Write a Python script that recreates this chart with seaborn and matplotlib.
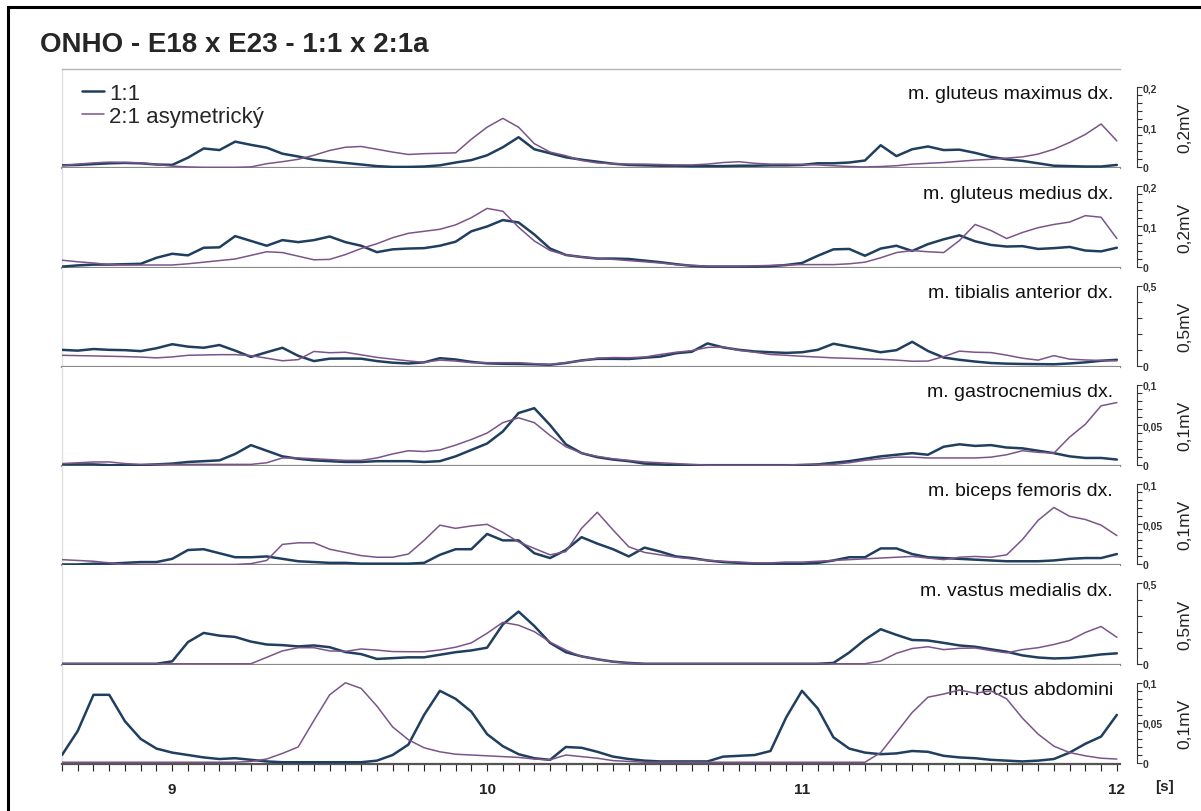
import numpy as np
import matplotlib
matplotlib.use("Agg")
import matplotlib.pyplot as plt
import matplotlib.ticker as mticker
import matplotlib.transforms as mtransforms
from matplotlib.patches import Rectangle
import seaborn as sns

sns.set_style("white")
plt.rcParams['font.family'] = ['Liberation Sans', 'DejaVu Sans']

# time axis [s], one sample every 0.05 s (8.65 .. 12.00)
time_s = np.round(np.arange(8.65, 12.001, 0.05), 2)

# EMG envelopes [mV]
glut_max_11 = [0.005, 0.006, 0.008, 0.010, 0.011, 0.010, 0.007,
               0.006, 0.024, 0.047, 0.043, 0.064, 0.056, 0.049, 0.034, 0.027, 0.019, 0.015, 0.011, 0.007, 0.003, 0.001, 0.001, 0.002, 0.005, 0.012, 0.018,
               0.030, 0.050, 0.075, 0.045, 0.035, 0.025, 0.019, 0.014, 0.009, 0.006, 0.005, 0.004, 0.004, 0.003, 0.003, 0.003, 0.004, 0.004, 0.005, 0.005,
               0.006, 0.010, 0.010, 0.012, 0.017, 0.055, 0.028, 0.045, 0.052, 0.043, 0.044, 0.036, 0.026, 0.020, 0.016, 0.010, 0.004, 0.003, 0.002, 0.002,
               0.006]
glut_max_21 = [0.004, 0.008, 0.011, 0.013, 0.012, 0.011, 0.007,
               0.003, 0.001, 0.000, 0.000, 0.000, 0.001, 0.009, 0.014, 0.020, 0.030, 0.042, 0.050, 0.052, 0.045, 0.038, 0.032, 0.034, 0.035, 0.036, 0.070,
               0.100, 0.122, 0.100, 0.059, 0.038, 0.029, 0.017, 0.011, 0.009, 0.008, 0.008, 0.007, 0.006, 0.006, 0.008, 0.012, 0.014, 0.010, 0.008, 0.008,
               0.007, 0.006, 0.004, 0.002, 0.001, 0.002, 0.004, 0.008, 0.010, 0.012, 0.015, 0.018, 0.020, 0.023, 0.026, 0.033, 0.045, 0.062, 0.082, 0.108,
               0.066]

glut_med_11 = [0.000, 0.003, 0.005, 0.005, 0.006, 0.007, 0.022,
               0.032, 0.028, 0.047, 0.048, 0.076, 0.064, 0.052, 0.066, 0.061, 0.066, 0.075, 0.061, 0.052, 0.036, 0.043, 0.045, 0.046, 0.052, 0.062, 0.088,
               0.100, 0.116, 0.110, 0.080, 0.045, 0.029, 0.024, 0.020, 0.020, 0.019, 0.015, 0.011, 0.006, 0.002, 0.000, 0.000, 0.000, 0.000, 0.001, 0.004,
               0.009, 0.027, 0.043, 0.044, 0.027, 0.045, 0.052, 0.039, 0.056, 0.068, 0.078, 0.063, 0.054, 0.050, 0.051, 0.044, 0.046, 0.049, 0.040, 0.038,
               0.047]
glut_med_21 = [0.016, 0.012, 0.009, 0.005, 0.004, 0.004, 0.004,
               0.004, 0.007, 0.011, 0.015, 0.019, 0.028, 0.037, 0.035, 0.026, 0.017, 0.018, 0.030, 0.045, 0.057, 0.072, 0.083, 0.088, 0.093, 0.104, 0.122,
               0.145, 0.138, 0.098, 0.064, 0.040, 0.029, 0.024, 0.020, 0.018, 0.015, 0.012, 0.009, 0.005, 0.003, 0.001, 0.001, 0.001, 0.002, 0.003, 0.004,
               0.005, 0.005, 0.005, 0.007, 0.011, 0.022, 0.035, 0.040, 0.037, 0.035, 0.065, 0.105, 0.090, 0.070, 0.085, 0.097, 0.105, 0.111, 0.127, 0.123,
               0.070]

tib_11 = [0.100, 0.095, 0.105, 0.100, 0.098, 0.092, 0.110,
          0.135, 0.120, 0.113, 0.130, 0.095, 0.056, 0.085, 0.113, 0.063, 0.030, 0.045, 0.046, 0.045, 0.030, 0.020, 0.015, 0.022, 0.048, 0.040, 0.025,
          0.016, 0.013, 0.012, 0.010, 0.007, 0.018, 0.034, 0.044, 0.044, 0.043, 0.051, 0.058, 0.079, 0.088, 0.140, 0.115, 0.100, 0.090, 0.085, 0.081,
          0.085, 0.100, 0.138, 0.120, 0.103, 0.085, 0.098, 0.150, 0.093, 0.052, 0.038, 0.027, 0.018, 0.014, 0.012, 0.011, 0.010, 0.015, 0.022, 0.032,
          0.038]
tib_21 = [0.066, 0.064, 0.062, 0.060, 0.058, 0.055, 0.050,
          0.056, 0.066, 0.068, 0.070, 0.070, 0.064, 0.048, 0.032, 0.039, 0.090, 0.082, 0.085, 0.069, 0.053, 0.042, 0.031, 0.022, 0.036, 0.030, 0.020,
          0.020, 0.020, 0.020, 0.014, 0.008, 0.020, 0.032, 0.048, 0.052, 0.051, 0.055, 0.071, 0.085, 0.095, 0.115, 0.118, 0.097, 0.085, 0.071, 0.066,
          0.060, 0.055, 0.050, 0.047, 0.044, 0.041, 0.036, 0.029, 0.030, 0.058, 0.092, 0.085, 0.083, 0.067, 0.048, 0.036, 0.064, 0.042, 0.037, 0.034,
          0.032]

gast_11 = [0.001, 0.001, 0.001, 0.000, 0.000, 0.000, 0.001,
           0.002, 0.004, 0.005, 0.006, 0.014, 0.025, 0.018, 0.011, 0.008, 0.006, 0.005, 0.004, 0.004, 0.005, 0.005, 0.005, 0.004, 0.005, 0.011, 0.019,
           0.027, 0.042, 0.065, 0.071, 0.050, 0.026, 0.015, 0.010, 0.007, 0.005, 0.002, 0.001, 0.000, 0.000, 0.000, 0.000, 0.000, 0.000, 0.000, 0.000,
           0.000, 0.001, 0.003, 0.005, 0.008, 0.011, 0.013, 0.015, 0.013, 0.023, 0.026, 0.024, 0.025, 0.022, 0.021, 0.018, 0.015, 0.011, 0.009, 0.009,
           0.007]
gast_21 = [0.002, 0.003, 0.004, 0.004, 0.002, 0.001, 0.001,
           0.001, 0.001, 0.001, 0.001, 0.001, 0.001, 0.003, 0.009, 0.009, 0.008, 0.007, 0.006, 0.006, 0.009, 0.014, 0.018, 0.017, 0.019, 0.025, 0.032,
           0.040, 0.053, 0.059, 0.053, 0.037, 0.023, 0.015, 0.011, 0.008, 0.006, 0.004, 0.003, 0.002, 0.001, 0.000, 0.000, 0.000, 0.000, 0.000, 0.000,
           0.001, 0.001, 0.001, 0.003, 0.006, 0.008, 0.010, 0.010, 0.009, 0.009, 0.009, 0.009, 0.010, 0.013, 0.018, 0.016, 0.015, 0.035, 0.051, 0.074,
           0.078]

bic_11 = [0.000, 0.000, 0.001, 0.001, 0.002, 0.003, 0.003,
          0.007, 0.018, 0.019, 0.014, 0.009, 0.009, 0.010, 0.007, 0.004, 0.003, 0.002, 0.002, 0.001, 0.001, 0.001, 0.001, 0.002, 0.012, 0.019, 0.019,
          0.038, 0.030, 0.030, 0.014, 0.008, 0.018, 0.034, 0.026, 0.019, 0.010, 0.021, 0.016, 0.010, 0.008, 0.005, 0.003, 0.002, 0.001, 0.001, 0.001,
          0.001, 0.002, 0.005, 0.009, 0.009, 0.020, 0.020, 0.013, 0.009, 0.008, 0.007, 0.006, 0.005, 0.004, 0.004, 0.004, 0.005, 0.007, 0.008, 0.008,
          0.013]
bic_21 = [0.006, 0.005, 0.004, 0.002, 0.000, 0.000, 0.000,
          0.000, 0.000, 0.000, 0.000, 0.000, 0.001, 0.005, 0.025, 0.027, 0.027, 0.019, 0.015, 0.011, 0.009, 0.009, 0.013, 0.030, 0.049, 0.045, 0.048,
          0.050, 0.040, 0.028, 0.020, 0.012, 0.016, 0.045, 0.065, 0.043, 0.022, 0.015, 0.012, 0.009, 0.007, 0.005, 0.004, 0.003, 0.002, 0.002, 0.003,
          0.003, 0.004, 0.005, 0.006, 0.007, 0.008, 0.009, 0.010, 0.008, 0.006, 0.009, 0.010, 0.009, 0.012, 0.031, 0.055, 0.071, 0.060, 0.056, 0.049,
          0.036]

vast_11 = [0.0, 0.0, 0.0, 0.0, 0.0, 0.0, 0.0,
           0.015, 0.135, 0.192, 0.175, 0.167, 0.138, 0.120, 0.116, 0.108, 0.114, 0.103, 0.073, 0.060, 0.030, 0.035, 0.040, 0.040, 0.056, 0.072, 0.083,
           0.100, 0.245, 0.325, 0.235, 0.130, 0.072, 0.046, 0.028, 0.013, 0.005, 0.0, 0.0, 0.0, 0.0, 0.0, 0.0, 0.0, 0.0, 0.0, 0.0,
           0.0, 0.0, 0.005, 0.070, 0.150, 0.215, 0.180, 0.148, 0.145, 0.130, 0.114, 0.106, 0.090, 0.075, 0.052, 0.039, 0.033, 0.036, 0.046, 0.058,
           0.065]
vast_21 = [0.0, 0.0, 0.0, 0.0, 0.0, 0.0, 0.0,
           0.0, 0.0, 0.0, 0.0, 0.0, 0.0, 0.040, 0.080, 0.100, 0.100, 0.080, 0.077, 0.092, 0.085, 0.076, 0.075, 0.075, 0.086, 0.103, 0.130,
           0.190, 0.258, 0.240, 0.200, 0.135, 0.085, 0.045, 0.028, 0.012, 0.004, 0.0, 0.0, 0.0, 0.0, 0.0, 0.0, 0.0, 0.0, 0.0, 0.0,
           0.0, 0.0, 0.0, 0.0, 0.0, 0.017, 0.065, 0.095, 0.106, 0.088, 0.096, 0.098, 0.082, 0.068, 0.088, 0.100, 0.120, 0.145, 0.195, 0.232,
           0.165]

rect_11 = [0.010, 0.040, 0.085, 0.085, 0.052, 0.030, 0.018,
           0.013, 0.010, 0.007, 0.005, 0.006, 0.004, 0.002, 0.001, 0.001, 0.001, 0.001, 0.001, 0.001, 0.003, 0.010, 0.023, 0.060, 0.090, 0.080, 0.064,
           0.036, 0.021, 0.011, 0.006, 0.004, 0.020, 0.019, 0.014, 0.008, 0.005, 0.003, 0.002, 0.002, 0.002, 0.002, 0.008, 0.009, 0.010, 0.015, 0.057,
           0.090, 0.068, 0.032, 0.018, 0.013, 0.011, 0.012, 0.015, 0.014, 0.009, 0.007, 0.006, 0.004, 0.003, 0.002, 0.003, 0.005, 0.013, 0.024, 0.033,
           0.060]
rect_21 = [0.001, 0.001, 0.001, 0.001, 0.001, 0.001, 0.001,
           0.001, 0.001, 0.001, 0.001, 0.001, 0.002, 0.005, 0.012, 0.020, 0.053, 0.085, 0.100, 0.093, 0.071, 0.045, 0.029, 0.019, 0.014, 0.011, 0.010,
           0.009, 0.008, 0.007, 0.005, 0.004, 0.010, 0.008, 0.006, 0.003, 0.002, 0.001, 0.001, 0.001, 0.001, 0.001, 0.001, 0.001, 0.001, 0.001, 0.001,
           0.001, 0.001, 0.001, 0.001, 0.001, 0.013, 0.038, 0.063, 0.082, 0.086, 0.091, 0.087, 0.090, 0.080, 0.056, 0.036, 0.021, 0.013, 0.009, 0.006,
           0.005]

muscles = ["m. gluteus maximus dx.", "m. gluteus medius dx.", "m. tibialis anterior dx.",
           "m. gastrocnemius dx.", "m. biceps femoris dx.", "m. vastus medialis dx.",
           "m. rectus abdomini"]
series_11 = [glut_max_11, glut_med_11, tib_11, gast_11, bic_11, vast_11, rect_11]
series_21 = [glut_max_21, glut_med_21, tib_21, gast_21, bic_21, vast_21, rect_21]
scale_mv = [0.2, 0.2, 0.5, 0.1, 0.1, 0.5, 0.1]
scale_ticks = [[0, 0.1, 0.2], [0, 0.1, 0.2], [0, 0.5], [0, 0.05, 0.1],
               [0, 0.05, 0.1], [0, 0.5], [0, 0.05, 0.1]]
scale_tick_labels = [["0", "0,1", "0,2"], ["0", "0,1", "0,2"], ["0", "0,5"],
                     ["0", "0,05", "0,1"], ["0", "0,05", "0,1"], ["0", "0,5"],
                     ["0", "0,05", "0,1"]]
scale_units = ["0,2mV", "0,2mV", "0,5mV", "0,1mV", "0,1mV", "0,5mV", "0,1mV"]
minor_steps = [0.02, 0.02, 0.1, 0.01, 0.01, 0.1, 0.01]
legend_labels = ["1:1", "2:1 asymetrický"]

C11 = "#203f5f"
C21 = "#7b5589"

fig, axes = plt.subplots(7, 1, figsize=(12.01, 8.12), dpi=100, sharex=True,
                         gridspec_kw=dict(hspace=0))
fig.subplots_adjust(left=62 / 1201, right=1120 / 1201, top=1 - 70 / 812, bottom=1 - 765 / 812)

for i, ax in enumerate(axes):
    full = scale_mv[i]
    sns.lineplot(x=time_s, y=series_11[i], ax=ax, color=C11, linewidth=1.8, zorder=3)
    sns.lineplot(x=time_s, y=series_21[i], ax=ax, color=C21, linewidth=1.1, zorder=4)
    ax.set_xlim(8.65, 12.01)
    ax.set_ylim(-full * 0.012, full * 1.225)
    ax.set_xlabel("")
    ax.set_ylabel("")

    # spines
    ax.spines['top'].set_visible(i == 0)
    ax.spines['top'].set_color("#b5b5b5")
    ax.spines['top'].set_linewidth(1.0)
    ax.spines['left'].set_color("#e0e0e0")
    ax.spines['left'].set_linewidth(1.0)
    ax.spines['bottom'].set_color("#8a8a8a" if i < 6 else "#555555")
    ax.spines['bottom'].set_linewidth(1.6)
    ax.spines['right'].set_position(('outward', 12))
    ax.spines['right'].set_bounds(0, full)
    ax.spines['right'].set_color("#333333")
    ax.spines['right'].set_linewidth(0.8)

    # scale bar on the right
    ax.yaxis.tick_right()
    ax.yaxis.set_major_locator(mticker.FixedLocator(scale_ticks[i]))
    ax.yaxis.set_major_formatter(mticker.FixedFormatter(scale_tick_labels[i]))
    ax.yaxis.set_minor_locator(mticker.FixedLocator(np.arange(0, full + 1e-9, minor_steps[i])))
    ax.tick_params(axis='y', which='both', right=True, direction='out', length=3.5, width=0.8,
                   colors="#333333", labelsize=7.5, pad=1)
    for lab in ax.get_yticklabels():
        lab.set_fontweight('bold')

    trans = mtransforms.blended_transform_factory(ax.transAxes, ax.transData)
    ax.text(1.0614, full / 2, scale_units[i], transform=trans, rotation=90,
            ha='center', va='center', fontsize=12.5, color="#222222")
    ax.text(0.9934, 0.75, muscles[i], transform=ax.transAxes, ha='right',
            va='center', fontsize=14, color="#111111")

    if i < 6:
        ax.tick_params(axis='x', which='both', bottom=False, labelbottom=False)

# x axis of the bottom panel
axb = axes[-1]
axb.xaxis.set_major_locator(mticker.FixedLocator([9, 10, 11, 12]))
axb.xaxis.set_minor_locator(mticker.FixedLocator(np.arange(8.65, 12.001, 0.05)))
axb.tick_params(axis='x', which='both', bottom=True, direction='out', length=5, width=0.8,
                colors="#222222", labelsize=11, pad=8)
for lab in axb.get_xticklabels():
    lab.set_fontweight('bold')
fig.text(1165 / 1201, 1 - 787 / 812, "[s]", fontsize=11, fontweight='bold',
         ha='center', va='center')

# legend in the first panel
h = axes[0].get_lines()
axes[0].legend(h[:2], legend_labels, loc='upper left', bbox_to_anchor=(0.019, 0.86),
               frameon=False, fontsize=16, handlelength=1.0, handletextpad=0.2,
               labelspacing=0.1, borderaxespad=0, borderpad=0)

fig.text(40 / 1201, 1 - 45 / 812, "ONHO - E18 x E23 - 1:1 x 2:1a", fontsize=20,
         fontweight='bold', ha='left', va='center')

# frame around the figure (open to the right and bottom)
fig.patches.append(Rectangle((8 / 1201, -0.2), 1.5, 1.2 - 8 / 812, transform=fig.transFigure,
                             fill=False, edgecolor='black', linewidth=2.2))

fig.savefig("out.png", dpi=100)
